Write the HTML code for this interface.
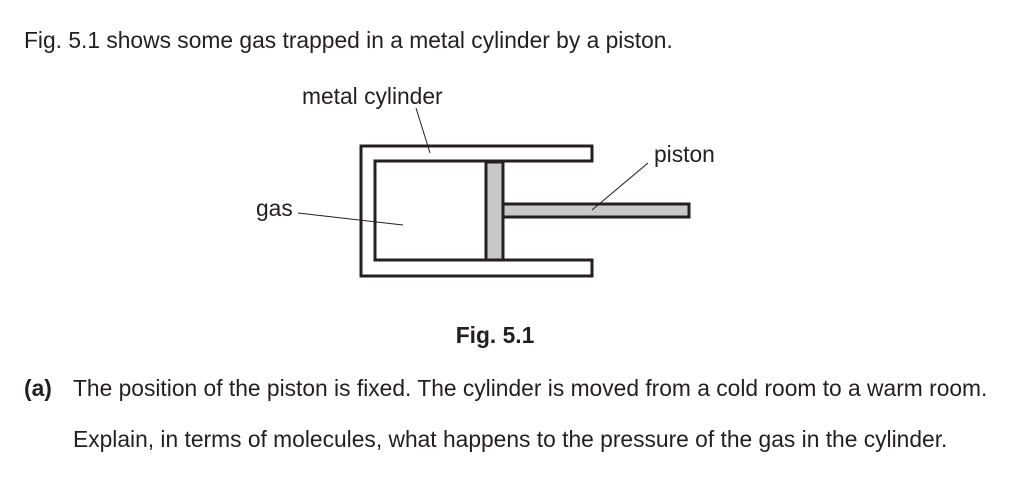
<!DOCTYPE html>
<html><head><style>
html,body{margin:0;padding:0;background:#fff;}
body{width:1024px;height:478px;position:relative;overflow:hidden;font-family:"Liberation Sans",Arial,sans-serif;color:#231f20;}
</style></head><body>
<svg width="1024" height="478" style="position:absolute;left:0;top:0;" font-family="Liberation Sans,Arial,sans-serif" fill="#231f20" font-size="22.8">
<path d="M361,146 H592 V161 H375 V260 H592 V276 H361 Z" fill="#fff" stroke="#231f20" stroke-width="3"/>
<rect x="486" y="162" width="17" height="98" fill="#c8c8c8" stroke="#231f20" stroke-width="3"/>
<rect x="503" y="204" width="186" height="13" fill="#c8c8c8" stroke="#231f20" stroke-width="3"/>
<line x1="416" y1="108" x2="430" y2="153" stroke="#231f20" stroke-width="1"/>
<line x1="648" y1="163" x2="592" y2="210" stroke="#231f20" stroke-width="1"/>
<line x1="298" y1="213" x2="403" y2="225" stroke="#231f20" stroke-width="1"/>
<text x="24" y="48">Fig. 5.1 shows some gas trapped in a metal cylinder by a piston.</text>
<text x="302" y="104">metal cylinder</text>
<text x="654" y="162">piston</text>
<text x="256" y="216">gas</text>
<text x="495" y="343" font-weight="bold" text-anchor="middle">Fig. 5.1</text>
<text x="24" y="396" font-weight="bold">(a)</text>
<text x="73" y="396">The position of the piston is fixed. The cylinder is moved from a cold room to a warm room.</text>
<text x="73" y="447">Explain, in terms of molecules, what happens to the pressure of the gas in the cylinder.</text>
</svg>
</body></html>
